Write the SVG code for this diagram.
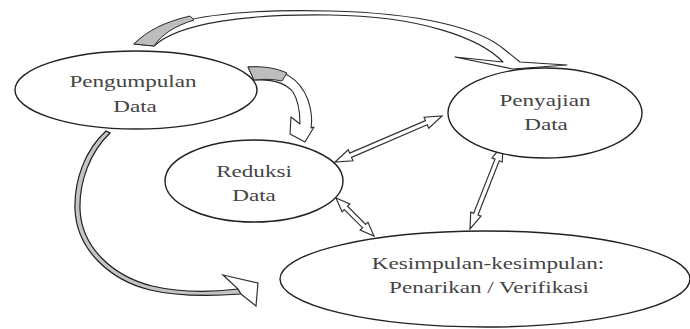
<svg xmlns="http://www.w3.org/2000/svg" width="690" height="329" viewBox="0 0 690 329">
<style>
.node ellipse{fill:#fff;stroke:#222;stroke-width:1.4}
.node text{font-family:'Liberation Serif','Times New Roman',serif;font-size:17px;fill:#444;text-anchor:middle}
.band{fill:#fff;stroke:#2a2a2a;stroke-width:1.1;stroke-linejoin:round}
.tail{fill:#bdbdbd;stroke:#2a2a2a;stroke-width:1}
.dbl{fill:#fff;stroke:#333;stroke-width:1.2;stroke-linejoin:miter}
.loop{fill:#c4c4c4;stroke:#1e1e1e;stroke-width:1.2}
</style>
<rect width="690" height="329" fill="#fff"/>
<g id="connectors">
  <path class="band" d="M134,44 C165,14 250,9 330,11 C420,13 480,28 505,50 L520,62 L567,65 L513,69 L455,57 L503,62 C480,38 420,16 330,15 C250,14 180,22 154,46 Z"/>
  <path class="tail" d="M134,44 C148,30 165,22 190,16 L194,20 C175,26 162,34 154,46 Z"/>
  <path class="band" d="M248,67 C280,66 300,78 308,100 C312,112 312,122 311,128 L314,127 L305,142 L290,134 L291,117 L300,124 C300,110 298,100 293,92 C285,82 272,79 254,80 Z"/>
  <path class="tail" d="M248,67 C264,66 276,68 287,73 L282,81 C273,79 264,79 254,80 Z"/>
  <path class="loop" d="M106,131 C85,150 74,180 75,210 C77,250 110,280 150,290 C180,297 215,296 241,294 L238,289 C214,292 182,293 152,286 C113,276 82,248 80,210 C79,182 90,152 110,133 Z"/>
  <path class="dbl" d="M238,289 L223,275 L258,283 L256,306 L241,294 Z"/>
  <g transform="translate(335,162) rotate(-23.26)">
    <polygon class="dbl" points="0,0 17,-6 17,-2.3 99.5,-2.3 99.5,-6 116.5,0 99.5,6 99.5,2.3 17,2.3 17,6"/>
  </g>
  <g transform="translate(336,198) rotate(45)">
    <polygon class="dbl" points="0,0 14,-5.5 14,-2.3 39.7,-2.3 39.7,-5.5 53.7,0 39.7,5.5 39.7,2.3 14,2.3 14,5.5"/>
  </g>
  <g transform="translate(470,229) rotate(-68.55)">
    <polygon class="dbl" points="0,0 16,-5.5 16,-2.3 74.2,-2.3 74.2,-5.5 90.2,0 74.2,5.5 74.2,2.3 16,2.3 16,5.5"/>
  </g>
</g>
<g id="node-pengumpulan" class="node">
  <ellipse cx="136" cy="90" rx="121" ry="39"/>
  <text transform="translate(133,87) scale(1.36,1)">Pengumpulan</text>
  <text transform="translate(135,112) scale(1.36,1)">Data</text>
</g>
<g id="node-reduksi" class="node">
  <ellipse cx="254" cy="181" rx="89" ry="41"/>
  <text transform="translate(254,177) scale(1.36,1)">Reduksi</text>
  <text transform="translate(254,201) scale(1.36,1)">Data</text>
</g>
<g id="node-penyajian" class="node">
  <ellipse cx="545" cy="113" rx="97" ry="45"/>
  <text transform="translate(545,106) scale(1.36,1)">Penyajian</text>
  <text transform="translate(546,130) scale(1.36,1)">Data</text>
</g>
<g id="node-kesimpulan" class="node">
  <ellipse cx="485" cy="279" rx="205" ry="48"/>
  <text transform="translate(488,269) scale(1.36,1)">Kesimpulan-kesimpulan:</text>
  <text transform="translate(489,293) scale(1.36,1)">Penarikan / Verifikasi</text>
</g>
</svg>
